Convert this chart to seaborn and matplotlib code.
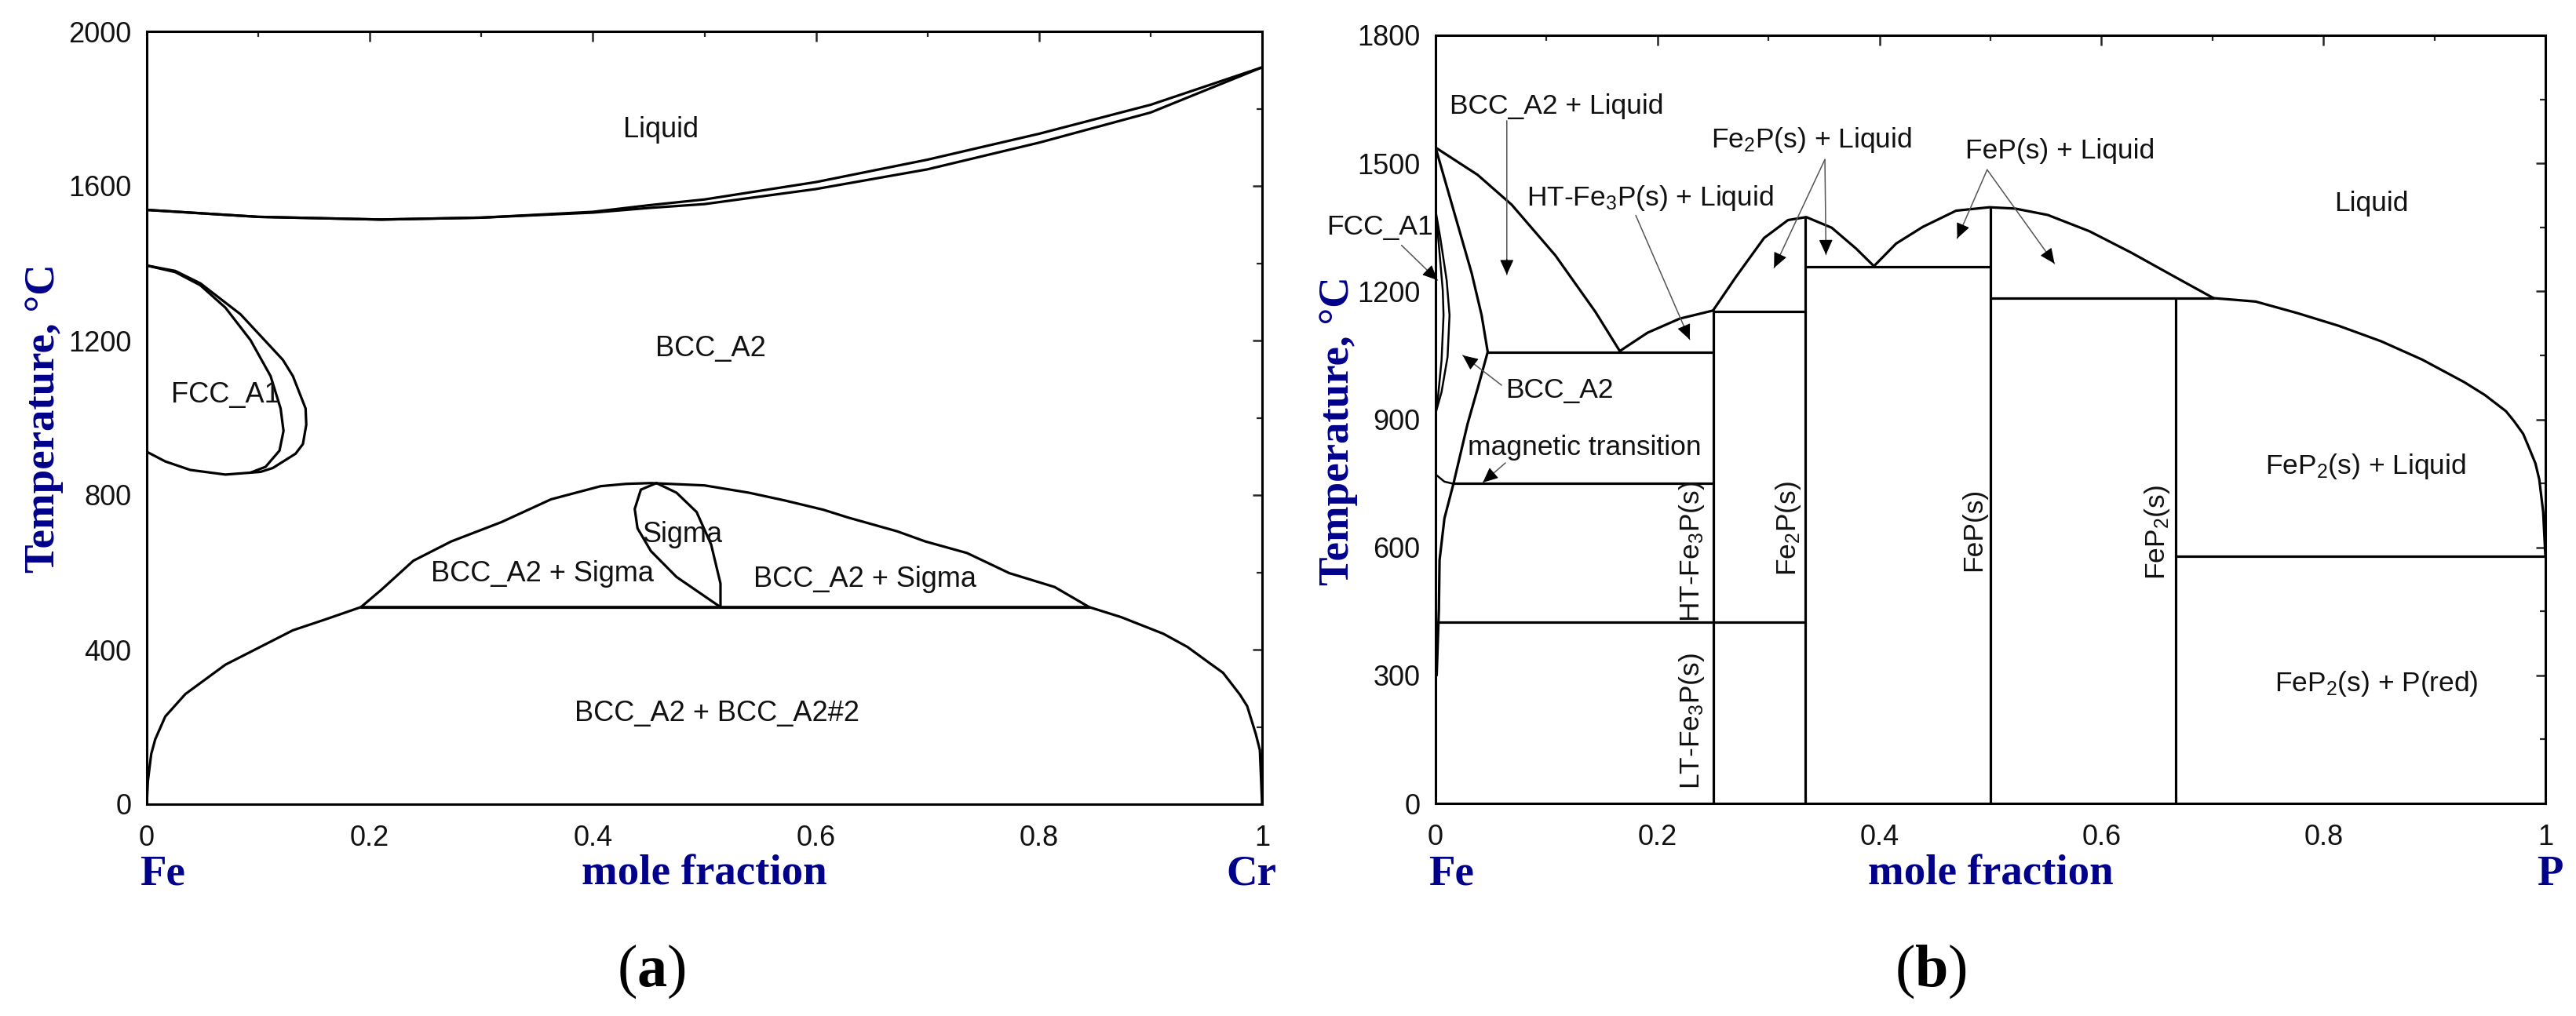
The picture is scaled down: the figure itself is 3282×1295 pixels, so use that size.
import matplotlib
matplotlib.use('Agg')
import matplotlib.pyplot as plt
import seaborn as sns

# ---- panel (a) Fe-Cr, (mole fraction, temperature)
cr_liquidus_x = [0, 0.1, 0.21, 0.3, 0.4, 0.45, 0.5, 0.6, 0.7, 0.8, 0.9, 1.0]
cr_liquidus_t = [1538, 1520, 1513, 1518, 1533, 1550, 1565, 1610, 1668, 1735, 1810, 1907]
cr_solidus_x = [0, 0.1, 0.21, 0.3, 0.4, 0.45, 0.5, 0.6, 0.7, 0.8, 0.9, 1.0]
cr_solidus_t = [1538, 1520, 1513, 1518, 1531, 1543, 1553, 1592, 1643, 1712, 1790, 1907]
cr_loop_outer_x = [0, 0.0256, 0.048, 0.084, 0.122, 0.131, 0.1424, 0.143, 0.14, 0.1334, 0.113, 0.102, 0.0705,
                   0.039, 0.0166, 0]
cr_loop_outer_t = [1394, 1380, 1348, 1268, 1150, 1108, 1024, 982, 932, 907, 870, 860, 853, 865, 887, 912]
cr_loop_inner_x = [0, 0.0256, 0.048, 0.0705, 0.093, 0.111, 0.12, 0.1226, 0.119, 0.1065, 0.093]
cr_loop_inner_t = [1394, 1377, 1343, 1285, 1201, 1108, 1024, 966, 915, 873, 858]
cr_sigma_dome_x = [0.192, 0.21, 0.239, 0.273, 0.318, 0.3625, 0.407, 0.43, 0.452, 0.5, 0.54, 0.572, 0.6066, 0.6286,
                   0.673, 0.698, 0.7354, 0.7733, 0.814, 0.845]
cr_sigma_dome_t = [510, 554, 630, 680, 730, 789, 823, 829, 831, 825, 806, 786, 762, 742, 706, 680, 650, 598, 562, 510]
cr_miscibility_x = [0, 0.001, 0.004, 0.0076, 0.0166, 0.0346, 0.0705, 0.131, 0.16, 0.192, 0.845, 0.8737, 0.9115,
                    0.933, 0.952, 0.965, 0.98, 0.9866, 0.9944, 0.998, 1.0]
cr_miscibility_t = [0, 60, 130, 168, 227, 285, 361, 450, 478, 510, 510, 484, 441, 407, 367, 340, 284, 254, 181,
                    140, 0]
cr_sigma_left_x = [0.457, 0.443, 0.4375, 0.44, 0.452, 0.475, 0.5144]
cr_sigma_left_t = [831, 814, 764, 714, 655, 588, 510]
cr_sigma_right_x = [0.457, 0.475, 0.493, 0.506, 0.5144, 0.5144]
cr_sigma_right_t = [831, 806, 756, 672, 571, 510]
cr_tie_x = [0.192, 0.845]
cr_tie_t = [510, 510]

# ---- panel (b) Fe-P
p_liq_bcc_x = [0, 0.0379, 0.0686, 0.108, 0.144, 0.166]
p_liq_bcc_t = [1537, 1473, 1403, 1284, 1152, 1060]
p_liq_fe3p_x = [0.166, 0.191, 0.22, 0.25]
p_liq_fe3p_t = [1060, 1103, 1136, 1155]
p_liq_fe2p_x = [0.25, 0.2707, 0.296, 0.3176, 0.334, 0.357, 0.379, 0.395]
p_liq_fe2p_t = [1155, 1234, 1325, 1367, 1374, 1349, 1300, 1259]
p_liq_fep_x = [0.395, 0.415, 0.439, 0.469, 0.499, 0.522, 0.5516, 0.589, 0.6266, 0.664, 0.701]
p_liq_fep_t = [1259, 1312, 1351, 1389, 1397, 1394, 1379, 1341, 1291, 1237, 1184]
p_liq_fep2_x = [0.701, 0.7207, 0.739, 0.7765, 0.814, 0.852, 0.889, 0.927, 0.9455, 0.9645, 0.9717, 0.98, 0.985,
                0.991, 0.9945, 0.998, 1.0]
p_liq_fep2_t = [1184, 1180, 1176, 1149, 1119, 1083, 1040, 987, 957, 919, 896, 866, 835, 797, 759, 683, 580]
p_bcc_x = [0, 0.018, 0.0325, 0.0415, 0.047, 0.0379, 0.0289, 0.0162, 0.008, 0.0036, 0.003, 0.001]
p_bcc_t = [1537, 1374, 1243, 1144, 1058, 972, 890, 750, 668, 570, 454, 300]
p_loop_outer_x = [0, 0.0043, 0.01, 0.0126, 0.0108, 0.0054, 0]
p_loop_outer_t = [1390, 1325, 1226, 1144, 1046, 964, 914]
p_loop_inner_x = [0, 0.003, 0.0065, 0.0072, 0.0054, 0.002, 0]
p_loop_inner_t = [1390, 1308, 1202, 1144, 1038, 947, 914]
p_magnetic_x = [0, 0.008, 0.016]
p_magnetic_t = [771, 754, 749]
# horizontal tie lines: x start, x end, temperature
p_tie_x0 = [0.047, 0.016, 0.002, 0.25, 0.3333, 0.5, 0.6667]
p_tie_x1 = [0.25, 0.25, 0.3333, 0.3333, 0.5, 0.701, 1.0]
p_tie_t = [1058, 750, 425, 1152, 1257, 1184, 580]
# vertical compounds: composition, top temperature
p_comp_x = [0.25, 0.3333, 0.5, 0.6667]
p_comp_t = [1155, 1374, 1397, 1184]

# ---- labels
cr_labels = ['Liquid', 'BCC_A2', 'FCC_A1', 'Sigma', 'BCC_A2 + Sigma', 'BCC_A2 + Sigma', 'BCC_A2 + BCC_A2#2']
cr_label_x = [0.461, 0.5055, 0.0705, 0.48, 0.355, 0.644, 0.511]
cr_label_t = [1745, 1179, 1058, 697, 596, 581, 235]

p_labels = ['BCC_A2 + Liquid', 'Fe$_2$P(s) + Liquid', 'HT-Fe$_3$P(s) + Liquid', 'FCC_A1', 'BCC_A2',
            'magnetic transition', 'FeP(s) + Liquid', 'Liquid', 'FeP$_2$(s) + Liquid', 'FeP$_2$(s) + P(red)']
p_label_x = [0.109, 0.3385, 0.193, -0.0505, 0.112, 0.134, 0.563, 0.843, 0.838, 0.848]
p_label_t = [1634, 1555, 1419, 1351, 968, 834, 1529, 1406, 790, 281]
p_vlabels = ['HT-Fe$_3$P(s)', 'LT-Fe$_3$P(s)', 'Fe$_2$P(s)', 'FeP(s)', 'FeP$_2$(s)']
p_vlabel_x = [0.231, 0.231, 0.318, 0.485, 0.65]
p_vlabel_t = [590, 193, 644, 641, 635]

# arrows: from (x, t) to (x, t)
arrow_from = [(0.0642, 1600), (-0.0307, 1308), (0.1804, 1378), (0.3508, 1509), (0.3508, 1509),
              (0.0595, 980), (0.063, 798), (0.497, 1485), (0.497, 1485)]
arrow_to = [(0.0642, 1239), (0.0018, 1226), (0.229, 1087), (0.305, 1255), (0.3518, 1286),
            (0.0245, 1050), (0.0426, 752), (0.47, 1324), (0.5577, 1265)]

W, H = 3282, 1295
NAVY = '#00008b'
SANS = 'Liberation Sans'
SERIF = 'Liberation Serif'

sns.set_theme(style='white')
plt.rcParams['font.family'] = [SANS, 'DejaVu Sans']
plt.rcParams['mathtext.default'] = 'regular'
plt.rcParams['mathtext.fontset'] = 'custom'
plt.rcParams['mathtext.bf'] = 'Liberation Serif:bold'
plt.rcParams['mathtext.rm'] = 'Liberation Serif'

fig = plt.figure(figsize=(W / 100, H / 100), dpi=100, facecolor='white')


def make_axes(left, right, top, bottom):
    return fig.add_axes([left / W, 1 - bottom / H, (right - left) / W, (bottom - top) / H])


def curve(ax, x, y, lw=2.3):
    sns.lineplot(x=x, y=y, sort=False, estimator=None, color='black', linewidth=lw, ax=ax, legend=False)


def format_axes(ax, ymax, ymajor, yminor):
    ax.set_xlim(0, 1)
    ax.set_ylim(0, ymax)
    ax.set_xticks([0, 0.2, 0.4, 0.6, 0.8, 1])
    ax.set_xticklabels(['0', '0.2', '0.4', '0.6', '0.8', '1'])
    ax.set_xticks([0.1, 0.3, 0.5, 0.7, 0.9], minor=True)
    ax.set_yticks(list(range(0, ymax + 1, ymajor)))
    ax.set_yticks(list(range(yminor, ymax, ymajor)), minor=True)
    ax.tick_params(which='major', direction='in', top=True, right=True, length=9, width=1.8,
                   labelsize=26, labelcolor='#111111', pad=14)
    ax.tick_params(axis='x', which='major', pad=19)
    ax.tick_params(which='minor', direction='in', top=True, right=True, length=5, width=1.6)
    ax.set_xlabel('')
    ax.set_ylabel('')
    for sp in ax.spines.values():
        sp.set_linewidth(2.2)
        sp.set_color('black')


def blue(px, py, s, **kw):
    fig.text(px / W, 1 - py / H, s, color=NAVY, family=SERIF, weight='bold', fontsize=39.5,
             ha='center', va='center', **kw)


# panel (a)
ax_a = make_axes(187, 1608, 40, 1025)
curve(ax_a, cr_liquidus_x, cr_liquidus_t)
curve(ax_a, cr_solidus_x, cr_solidus_t)
curve(ax_a, cr_loop_outer_x, cr_loop_outer_t)
curve(ax_a, cr_loop_inner_x, cr_loop_inner_t)
curve(ax_a, cr_sigma_dome_x, cr_sigma_dome_t)
curve(ax_a, cr_miscibility_x, cr_miscibility_t)
curve(ax_a, cr_sigma_left_x, cr_sigma_left_t)
curve(ax_a, cr_sigma_right_x, cr_sigma_right_t)
curve(ax_a, cr_tie_x, cr_tie_t)
format_axes(ax_a, 2000, 400, 200)
for s, x, t in zip(cr_labels, cr_label_x, cr_label_t):
    ax_a.text(x, t, s, fontsize=26, ha='center', va='center', color='#111111')

blue(56, 533, 'Temperature, °C', rotation=90)
blue(207, 1115, 'Fe')
blue(897, 1115, 'mole fraction')
blue(1594, 1115, 'Cr')

# panel (b)
ax_b = make_axes(1829, 3243, 45, 1024)
curve(ax_b, p_liq_bcc_x, p_liq_bcc_t)
curve(ax_b, p_liq_fe3p_x, p_liq_fe3p_t)
curve(ax_b, p_liq_fe2p_x, p_liq_fe2p_t)
curve(ax_b, p_liq_fep_x, p_liq_fep_t)
curve(ax_b, p_liq_fep2_x, p_liq_fep2_t)
curve(ax_b, p_bcc_x, p_bcc_t)
curve(ax_b, p_loop_outer_x, p_loop_outer_t, lw=1.8)
curve(ax_b, p_loop_inner_x, p_loop_inner_t, lw=1.8)
curve(ax_b, p_magnetic_x, p_magnetic_t, lw=1.8)
for x0, x1, t in zip(p_tie_x0, p_tie_x1, p_tie_t):
    curve(ax_b, [x0, x1], [t, t])
for x, t in zip(p_comp_x, p_comp_t):
    curve(ax_b, [x, x], [0, t])
format_axes(ax_b, 1800, 300, 150)
for s, x, t in zip(p_labels, p_label_x, p_label_t):
    ax_b.text(x, t, s, fontsize=25.5, ha='center', va='center', color='#111111')
for s, x, t in zip(p_vlabels, p_vlabel_x, p_vlabel_t):
    ax_b.text(x, t, s, fontsize=25.5, ha='center', va='center', rotation=90, color='#111111')

# grey shaft, small black head
for start, end in zip(arrow_from, arrow_to):
    ax_b.annotate('', xy=end, xytext=start, annotation_clip=False,
                  arrowprops=dict(arrowstyle='-', color='#555555', lw=1.1, shrinkA=0, shrinkB=0))
    ax_b.annotate('', xy=end, xytext=(end[0] - (end[0] - start[0]) * 0.1, end[1] - (end[1] - start[1]) * 0.1),
                  annotation_clip=False,
                  arrowprops=dict(arrowstyle='-|>,head_length=0.55,head_width=0.25', color='black', lw=0.8,
                                  shrinkA=0, shrinkB=0, mutation_scale=22))

blue(1705, 549, 'Temperature, °C', rotation=90)
blue(1849, 1115, 'Fe')
blue(2536, 1115, 'mole fraction')
blue(3249, 1115, 'P')

# panel letters
fig.text(830 / W, 1 - 1238 / H, r'($\mathbf{a}$)', family=SERIF, fontsize=55, ha='center', va='center', color='black')
fig.text(2460 / W, 1 - 1238 / H, r'($\mathbf{b}$)', family=SERIF, fontsize=55, ha='center', va='center', color='black')

fig.savefig('out.png', dpi=100, facecolor='white')
